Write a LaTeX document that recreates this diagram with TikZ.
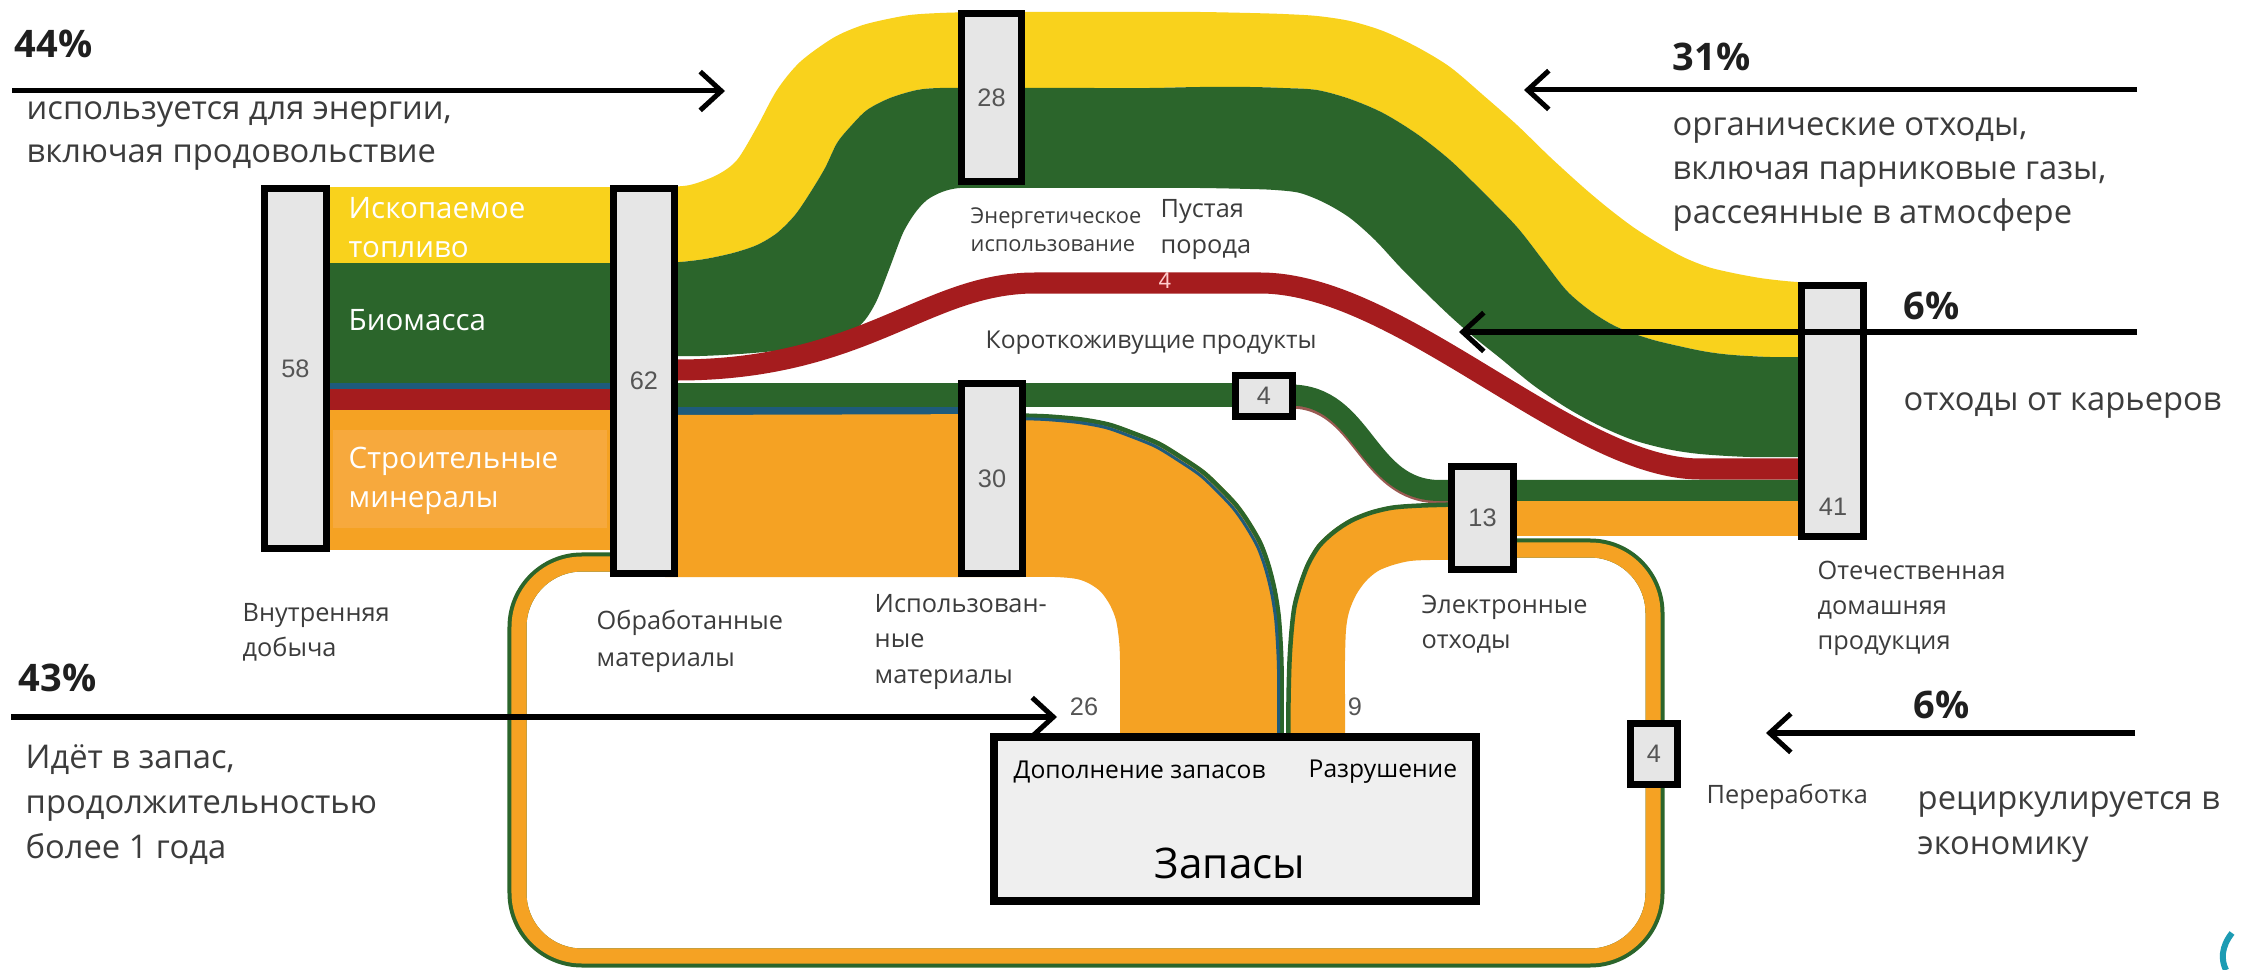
\documentclass[tikz,border=0pt]{standalone}
\usepackage{fontspec}
\setmainfont{Open Sans}
\newfontfamily\numfont{Liberation Sans}
\usetikzlibrary{arrows.meta}
\definecolor{cYel}{HTML}{F9D21C}
\definecolor{cGrn}{HTML}{2B652B}
\definecolor{cRed}{HTML}{A51C1E}
\definecolor{cOrg}{HTML}{F5A223}
\definecolor{cOrgL}{HTML}{F7A93D}
\definecolor{cBlu}{HTML}{1E5B7C}
\definecolor{cBrn}{HTML}{9A5A52}
\definecolor{cBox}{HTML}{E6E6E6}
\definecolor{cStock}{HTML}{EFEFEF}
\definecolor{cTxt}{HTML}{3C3C3C}
\definecolor{cNum}{HTML}{555555}
\definecolor{cTeal}{HTML}{1C9BB3}
\begin{document}
\begin{tikzpicture}[x=0.01cm, y=-0.01cm,
  box/.style={draw=black, fill=cBox, line width=0.07cm, inner sep=0, font=\numfont\fontsize{7.2}{8}\selectfont, text=cNum},
  num/.style={inner sep=0, font=\numfont\fontsize{7.2}{8}\selectfont, text=cNum},
  txt/.style={inner sep=0, anchor=west, align=left, text=cTxt},
  big/.style={txt, font=\fontsize{9.3}{12.3}\selectfont},
  lbl/.style={txt, font=\fontsize{7.2}{10}\selectfont},
  wlbl/.style={inner sep=0, anchor=west, align=left, text=white, font=\fontsize{8.4}{11}\selectfont},
  pct/.style={inner sep=0, anchor=west, text=black!88, font=\bfseries\fontsize{10.8}{12}\selectfont},
  pointer/.style={line width=0.05cm, -{Straight Barb[length=6pt,width=11pt]}}
]
\useasboundingbox (0,0) rectangle (2244,970);
\fill[white] (0,0) rectangle (2244,970);

% recycling loop
\draw[cGrn, line width=0.19cm, rounded corners=0.65cm] (1510,548) -- (1655,548) -- (1655,958) -- (517,958) -- (517,562) -- (618,562);
\draw[cOrg, line width=0.15cm, rounded corners=0.63cm] (1510,550) -- (1653,550) -- (1653,956) -- (519,956) -- (519,564) -- (618,564);

% domestic extraction -> processed materials
\fill[cYel] (325,187) rectangle (615,263);
\fill[cGrn] (325,263) rectangle (615,383);
\fill[cBlu] (325,383) rectangle (615,389);
\fill[cRed] (325,389) rectangle (615,410);
\fill[cOrg] (325,410) rectangle (615,550);
\fill[cOrgL] (333,430) rectangle (607,528);

% energetic use band (yellow + green)
\fill[cYel] plot[smooth] coordinates {(665,187) (690,185) (717,175) (737,160) (757,127) (777,90) (800,62) (833,38) (860,26) (883,20) (910,15) (940,13) (980,12) (1030,12) (1090,12) (1150,12) (1200,12) (1250,13) (1283,14) (1317,16) (1350,21) (1383,31) (1417,47) (1450,67) (1483,95) (1517,125) (1550,157) (1583,187) (1608,208) (1633,227) (1658,243) (1683,257) (1708,267) (1733,273) (1760,278) (1785,281) (1810,283)}
  -- plot[smooth] coordinates {(1810,357) (1770,357) (1733,355) (1708,352) (1683,347) (1650,339) (1617,327) (1592,312) (1567,291) (1542,259) (1517,227) (1483,192) (1450,160) (1417,134) (1383,113) (1350,99) (1317,90) (1283,88) (1250,87) (1200,87) (1150,88) (1090,88) (1030,88) (980,88) (940,88) (917,90) (890,98) (867,110) (850,127) (837,143) (825,168) (810,193) (795,215) (777,233) (757,245) (733,253) (705,259) (680,262) (665,262)} -- cycle;
\fill[cGrn] plot[smooth] coordinates {(665,262) (680,262) (705,259) (733,253) (757,245) (777,233) (795,215) (810,193) (825,168) (837,143) (850,127) (867,110) (890,98) (917,90) (940,88) (980,88) (1030,88) (1090,88) (1150,88) (1200,87) (1250,87) (1283,88) (1317,90) (1350,99) (1383,113) (1417,134) (1450,160) (1483,192) (1517,227) (1542,259) (1567,291) (1592,312) (1617,327) (1650,339) (1683,347) (1708,352) (1733,355) (1770,357) (1810,357)}
  -- plot[smooth] coordinates {(1810,457) (1750,457) (1700,454) (1667,449) (1633,440) (1600,426) (1567,408) (1533,385) (1500,358) (1475,338) (1450,316) (1425,292) (1400,267) (1375,240) (1350,218) (1325,203) (1300,193) (1275,190) (1250,189) (1200,188) (1150,188) (1100,188) (1050,188) (1000,188) (960,188) (942,192) (927,200) (915,213) (903,233) (890,267) (877,300) (865,320) (850,333) (820,343) (783,350) (740,354) (700,356) (665,356)} -- cycle;

% waste rock band (red)
\draw[cRed, line width=0.21cm] (665,370) -- (677,370) .. controls (865,370) and (925,283) .. (1035,283) -- (1260,283) .. controls (1400,283) and (1573,469) .. (1700,469) -- (1805,469);

% short-lived products band (green)
\fill[cGrn] (665,383) rectangle (1240,407);
\fill[cBlu] (665,407) rectangle (965,415);
\draw[cBrn, line width=0.22cm, shift={(0,2.5)}] (1290,395) .. controls (1365,395) and (1365,490) .. (1440,490) -- (1455,490);
\draw[cGrn, line width=0.21cm] (1290,395) .. controls (1365,395) and (1365,490.5) .. (1440,490.5) -- (1805,490.5);

% used materials -> stock (26)
\fill[cOrg] (665,415) -- plot[smooth] coordinates {(1020,414) (1050,415) (1083,418) (1110,423) (1133,431) (1160,442) (1183,456) (1205,471) (1223,488) (1238,504) (1250,521) (1262,542) (1270,564) (1276,588) (1280,613) (1282,640) (1283,665) (1283,700) (1283,740)}
  -- (1120,740) -- plot[smooth] coordinates {(1120,740) (1120,700) (1120,660) (1119,640) (1116,620) (1110,605) (1101,592) (1090,584) (1077,579) (1055,577) (1020,577)} -- (665,577) -- cycle;
\draw[cGrn, line width=0.045cm, shift={(-1.5,1.5)}] plot[smooth] coordinates {(1020,414) (1050,415) (1083,418) (1110,423) (1133,431) (1160,442) (1183,456) (1205,471) (1223,488) (1238,504) (1250,521) (1262,542) (1270,564) (1276,588) (1280,613) (1282,640) (1283,665) (1283,700) (1283,740)};
\draw[cBlu, line width=0.03cm, shift={(-4.5,4.5)}] plot[smooth] coordinates {(1020,414) (1050,415) (1083,418) (1110,423) (1133,431) (1160,442) (1183,456) (1205,471) (1223,488) (1238,504) (1250,521) (1262,542) (1270,564) (1276,588) (1280,613) (1282,640) (1283,665) (1283,700) (1283,740)};

% demolition -> e-waste (9)
\fill[cOrg] plot[smooth] coordinates {(1287,740) (1287,700) (1288,660) (1290,630) (1293,605) (1299,583) (1307,562) (1318,544) (1333,530) (1350,519) (1370,511) (1392,506) (1420,504) (1455,503)}
  -- plot[smooth] coordinates {(1455,560) (1430,560) (1410,561) (1393,565) (1378,571) (1366,581) (1356,595) (1349,612) (1346,630) (1345,660) (1345,700) (1345,740)} -- cycle;
\draw[cGrn, line width=0.045cm, shift={(1.5,1.5)}] plot[smooth] coordinates {(1287,740) (1287,700) (1288,660) (1290,630) (1293,605) (1299,583) (1307,562) (1318,544) (1333,530) (1350,519) (1370,511) (1392,506) (1420,504) (1455,503)};

% e-waste -> domestic output
\fill[cOrg] (1510,501) rectangle (1805,536);

% boxes
\node[box, minimum width=0.62cm, minimum height=3.60cm] (b58) at (295.5,368.5) {58};
\node[box, minimum width=0.61cm, minimum height=3.85cm] (b62) at (644,381) {62};
\node[box, minimum width=0.60cm, minimum height=1.68cm] (b28) at (991.5,97.5) {28};
\node[box, minimum width=0.61cm, minimum height=1.90cm] (b30) at (992,478.5) {30};
\node[box, minimum width=0.57cm, minimum height=0.41cm] (b4s) at (1264,396) {4};
\node[box, minimum width=0.62cm, minimum height=1.03cm] (b13) at (1482.5,518) {13};
\node[box, minimum width=0.62cm, minimum height=2.51cm] (b41) at (1832.5,411) {};
\node[num] (n41) at (1833,507) {41};
\node[box, minimum width=0.47cm, minimum height=0.61cm] (b4r) at (1654,754) {4};
\node[draw=black, fill=cStock, line width=0.08cm, minimum width=4.82cm, minimum height=1.64cm, inner sep=0] (stock) at (1235,819) {};

% flow numbers
\node[num] (n26) at (1084,707) {26};
\node[num] (n9) at (1355,707) {9};
\node[inner sep=0, font=\numfont\fontsize{6.5}{7}\selectfont, text=red!20] (n4red) at (1165,281) {4};

% labels in flows
\node[wlbl] (tFossil) at (348,227.5) {Ископаемое\\топливо};
\node[wlbl] (tBio) at (348,320) {Биомасса};
\node[wlbl] (tMin) at (348,481) {Строительные\\минералы};

% node labels
\node[lbl] (tDom) at (242,632.5) {Внутренняя\\добыча};
\node[lbl, font=\fontsize{7.2}{10.5}\selectfont] (tProc) at (596,641.5) {Обработанные\\материалы};
\node[lbl] (tUsed) at (874,642) {Использован-\\ные\\материалы};
\node[lbl] (tEw) at (1421,624.5) {Электронные\\отходы};
\node[lbl] (tDpo) at (1817,608.5) {Отечественная\\домашняя\\продукция};
\node[txt, font=\fontsize{6.2}{8}\selectfont] (tEn) at (970,230) {Энергетическое\\использование};
\node[lbl] (tRock) at (1160,229.5) {Пустая\\порода};
\node[lbl, font=\fontsize{7.0}{9}\selectfont] (tShort) at (985,343) {Короткоживущие продукты};
\node[lbl] (tRec) at (1706,797) {Переработка};
\node[lbl, text=black, font=\fontsize{7.0}{9}\selectfont] (tAdd) at (1013,772) {Дополнение запасов};
\node[lbl, text=black, font=\fontsize{7.0}{9}\selectfont] (tDem) at (1308,772) {Разрушение};
\node[inner sep=0, text=black, font=\fontsize{12}{14}\selectfont] (tStock) at (1230,863) {Запасы};

% annotations
\node[pct] (p44) at (14,44) {44\%};
\node[big] (tUse) at (26,136) {используется для энергии,\\включая продовольствие};
\node[pct] (p31) at (1672,57) {31\%};
\node[big, font=\fontsize{9.3}{12.4}\selectfont] (tOrg) at (1672,174.5) {органические отходы,\\включая парниковые газы,\\рассеянные в атмосфере};
\node[pct] (p6a) at (1903,306) {6\%};
\node[big] (tQuar) at (1903,406) {отходы от карьеров};
\node[pct] (p43) at (18,678) {43\%};
\node[big, font=\fontsize{9.3}{12.8}\selectfont] (tStk) at (25,805) {Идёт в запас,\\продолжительностью\\более 1 года};
\node[pct] (p6b) at (1913,705) {6\%};
\node[big, font=\fontsize{9.3}{12.8}\selectfont] (tRecy) at (1917,827.5) {рециркулируется в\\экономику};

% arrows
\coordinate (a1s) at (12,91);   \coordinate (a1e) at (725,91);
\coordinate (a2s) at (2137,90); \coordinate (a2e) at (1524,90);
\coordinate (a3s) at (2137,332); \coordinate (a3e) at (1459,332);
\coordinate (a4s) at (11,717);  \coordinate (a4e) at (1057,717);
\coordinate (a5s) at (2135,733); \coordinate (a5e) at (1766,733);
\draw[pointer] (a1s) -- (a1e);
\draw[pointer] (a2s) -- (a2e);
\draw[pointer] (a3s) -- (a3e);
\draw[pointer] (a4s) -- (a4e);
\draw[pointer] (a5s) -- (a5e);

% slide decoration
\draw[cTeal, line width=0.06cm] (2232,933) .. controls (2221,947) and (2221,960) .. (2226,970);
\end{tikzpicture}
\end{document}
